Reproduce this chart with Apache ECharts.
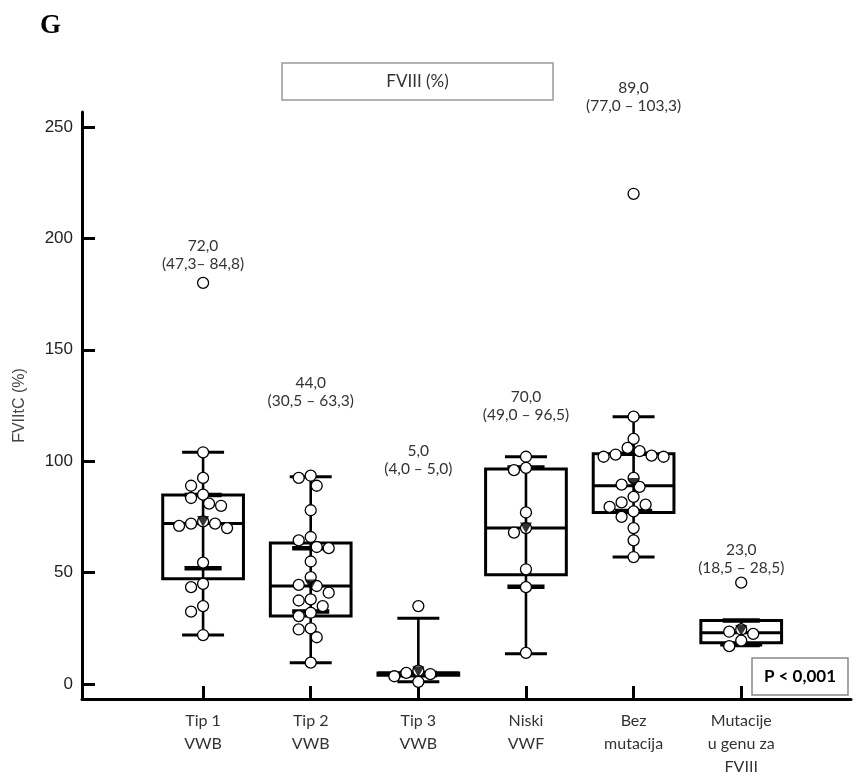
<!DOCTYPE html>
<html><head><meta charset="utf-8">
<script src="https://cdn.jsdelivr.net/npm/echarts@6/dist/echarts.min.js"></script>
<style>html,body{margin:0;padding:0;background:#fff}#c{width:857px;height:778px}</style>
</head><body><div id="c"></div>
<script>
// ---------- data ----------
const categories = ['Tip 1\nVWB', 'Tip 2\nVWB', 'Tip 3\nVWB', 'Niski\nVWF', 'Bez\nmutacija', 'Mutacije\nu genu za\nFVIII'];
const medians     = [72, 44, 5, 70, 89, 23];
const q1          = [47.3, 30.5, 4, 49, 77, 18.5];
const q3          = [84.8, 63.3, 5, 96.5, 103.3, 28.5];
const whiskerLow  = [22, 9.6, 1, 13.6, 57, 17.5];
const whiskerHigh = [104, 93, 29.5, 102, 120, 28.5];
const ciLow       = [52, 32.6, 4, 43.7, 77.7, 17.5];
const ciHigh      = [84.8, 61, 5, 97.2, 103.3, 28.5];
const means       = [73, 44.5, 5.5, 70, 90, 24];
const medianLabels = ['72,0', '44,0', '5,0', '70,0', '89,0', '23,0'];
const iqrLabels    = ['(47,3\u2013 84,8)', '(30,5 \u2013 63,3)', '(4,0 \u2013 5,0)', '(49,0 \u2013 96,5)', '(77,0 \u2013 103,3)', '(18,5 \u2013 28,5)'];

const tip1Vwb = [180, 104, 92.5, 89, 85, 83.5, 81, 80, 73, 72, 72, 71, 70, 54.5, 45, 43.5, 35, 32.5, 22];
const tip2Vwb = [93.5, 92.5, 89, 78, 66, 64.5, 61.5, 61, 55, 48, 44.5, 44, 41, 38, 37.5, 35, 32, 30.5, 25, 24.5, 21, 9.6];
const tip3Vwb = [35, 6, 5, 4.5, 3.5, 1];
const niskiVwf = [102, 97, 96, 77, 70, 68, 51.5, 43.5, 14];
const bezMutacija = [220, 120, 110, 106, 104.5, 103, 102.5, 102, 102, 92.5, 89.5, 88.5, 84, 81.5, 80.5, 79.5, 77.5, 75, 70, 64.5, 57];
const mutacijeFviii = [45.5, 24.5, 23.5, 22.5, 19.5, 17];
const groups = [tip1Vwb, tip2Vwb, tip3Vwb, niskiVwf, bezMutacija, mutacijeFviii];

const yTicks = [0, 50, 100, 150, 200, 250];
const xTicks = [1, 2, 3, 4, 5, 6];

// ---------- layout (not data) ----------
const labelLevels = [196.5, 135, 104.5, 129, 267.5, 60]; // value level of first annotation line
const FONT = 'Lato, "Open Sans", sans-serif';

const chart = echarts.init(document.getElementById('c'), null, {renderer: 'canvas'});

function boxItem(params, api) {
  const i = params.dataIndex;
  const x = i + 1;
  const cx = api.coord([x, medians[i]])[0];
  const Y = v => api.coord([x, v])[1];
  const bw = api.size([0.75, 0])[0];
  const cw = api.size([0.39, 0])[0];
  const ciw = api.size([0.345, 0])[0];
  const line = (x1, y1, x2, y2, lw) => ({type: 'line', shape: {x1, y1, x2, y2}, style: {stroke: '#000', lineWidth: lw}});
  const children = [
    line(cx, Y(whiskerLow[i]), cx, Y(whiskerHigh[i]), 2.6),
    line(cx - cw / 2, Y(whiskerHigh[i]), cx + cw / 2, Y(whiskerHigh[i]), 3),
    line(cx - cw / 2, Y(whiskerLow[i]), cx + cw / 2, Y(whiskerLow[i]), 3),
    {type: 'rect', shape: {x: cx - bw / 2, y: Y(q3[i]), width: bw, height: Y(q1[i]) - Y(q3[i])},
     style: {stroke: '#000', fill: 'rgba(0,0,0,0)', lineWidth: 3}},
    line(cx - bw / 2, Y(medians[i]), cx + bw / 2, Y(medians[i]), 3),
    line(cx - ciw / 2, Y(ciLow[i]), cx + ciw / 2, Y(ciLow[i]), 4.5),
    line(cx - ciw / 2, Y(ciHigh[i]), cx + ciw / 2, Y(ciHigh[i]), 4.5)
  ];
  return {type: 'group', children};
}

function annItem(params, api) {
  const i = params.dataIndex;
  const p = api.coord([i + 1, labelLevels[i]]);
  const st = t => ({text: t, fill: '#333', font: '15.5px ' + FONT, align: 'center', verticalAlign: 'middle'});
  return {type: 'group', children: [
    {type: 'text', x: p[0], y: p[1], style: st(medianLabels[i])},
    {type: 'text', x: p[0], y: p[1] + 18, style: st(iqrLabels[i])}
  ]};
}

const pointData = [];
groups.forEach((g, i) => g.forEach(v => pointData.push({value: [i + 1, v]})));

const option = {
  animation: false,
  backgroundColor: '#fff',
  grid: {left: 82, right: 6, top: 112, bottom: 73},
  xAxis: {
    type: 'value', min: -0.125, max: 7.02,
    axisLine: {show: true, onZero: false, lineStyle: {color: '#000', width: 3}},
    axisTick: {show: true, inside: true, length: 13, lineStyle: {color: '#000', width: 3}, customValues: xTicks},
    axisLabel: {show: true, customValues: xTicks, formatter: v => categories[Math.round(v) - 1] || '',
      color: '#333', fontSize: 16, fontFamily: FONT, lineHeight: 23, margin: 10},
    splitLine: {show: false}
  },
  yAxis: {
    type: 'value', min: -6.7, max: 256.7,
    name: 'FVIItC (%)', nameLocation: 'middle', nameRotate: 90, nameGap: 54,
    nameTextStyle: {color: '#444', fontSize: 16, fontFamily: '"Liberation Sans", Arial, sans-serif'},
    axisLine: {show: true, onZero: false, lineStyle: {color: '#000', width: 3}},
    axisTick: {show: true, inside: true, length: 13, lineStyle: {color: '#000', width: 3}, customValues: yTicks},
    axisLabel: {show: true, customValues: yTicks, color: '#222', fontSize: 17,
      fontFamily: '"Liberation Sans", Arial, sans-serif', margin: 9},
    splitLine: {show: false}
  },
  series: [
    {type: 'custom', renderItem: boxItem, data: medians.map((m, i) => [i + 1, m]), z: 2, clip: false, silent: true},
    {type: 'scatter', data: pointData, symbol: 'circle', symbolSize: 11, z: 3, silent: true,
     itemStyle: {color: '#fff', borderColor: '#000', borderWidth: 1.3, opacity: 1}},
    {type: 'scatter', data: means.map((m, i) => [i + 1, m]), symbol: 'triangle', symbolRotate: 180,
     symbolSize: [12, 11], z: 4, silent: true, itemStyle: {color: '#000'}},
    {type: 'custom', renderItem: annItem, data: medians.map((m, i) => [i + 1, labelLevels[i]]), z: 5, clip: false, silent: true}
  ],
  graphic: [
    {type: 'text', left: 40, top: 13, style: {text: 'G', font: 'bold 27px "Liberation Serif", "Times New Roman", serif', fill: '#000'}},
    {type: 'rect', shape: {x: 282, y: 63, width: 271, height: 37}, style: {fill: '#fff', stroke: '#999', lineWidth: 1.5}},
    {type: 'text', x: 417.5, y: 81.5, style: {text: 'FVIII (%)', font: '17px ' + FONT, fill: '#333', align: 'center', verticalAlign: 'middle'}},
    {type: 'rect', shape: {x: 752, y: 658, width: 96, height: 37}, style: {fill: '#fff', stroke: '#888', lineWidth: 1.5}, z: 10},
    {type: 'text', x: 800, y: 676.5, style: {text: 'P < 0,001', font: 'bold 17px ' + FONT, fill: '#000', align: 'center', verticalAlign: 'middle'}, z: 11}
  ]
};
chart.setOption(option);

// beeswarm offsets computed from the library's own pixel scale
const R = 10.5, STEP = 6;
const withOffsets = [];
groups.forEach((g, i) => {
  const placed = [];
  g.forEach(v => {
    const py = chart.convertToPixel({xAxisIndex: 0, yAxisIndex: 0}, [i + 1, v])[1];
    let dx = 0;
    for (let k = 0; k < 40; k++) {
      const cand = k === 0 ? 0 : (k % 2 ? -1 : 1) * Math.ceil(k / 2) * STEP;
      const ok = placed.every(p => Math.hypot(p[0] - cand, p[1] - py) >= R);
      if (ok) { dx = cand; break; }
    }
    placed.push([dx, py]);
    withOffsets.push({value: [i + 1, v], symbolOffset: [dx, 0]});
  });
});
chart.setOption({series: [{}, {data: withOffsets}, {}, {}]});
</script>
</body></html>
